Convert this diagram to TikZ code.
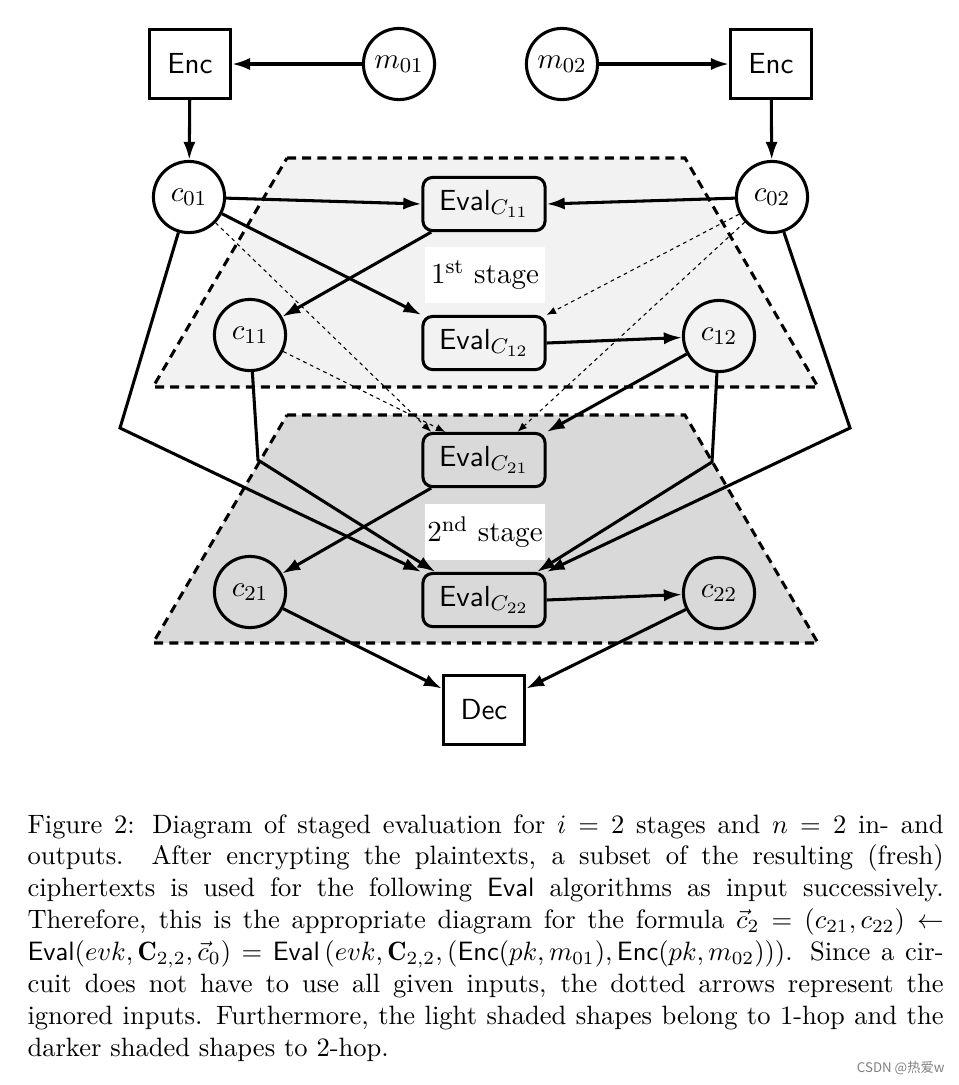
\documentclass[tikz,border=0pt]{standalone}
\usepackage{fontspec}
\usepackage{amsmath}
\usetikzlibrary{arrows.meta,calc}
\newfontfamily\cjkfont{Noto Sans CJK SC}
\begin{document}
\begin{tikzpicture}[x=0.3766pt,y=-0.3766pt,
  dfont/.style={font=\fontsize{10.95}{13.6}\selectfont},
  arr/.style={line width=1.15pt,-{Latex[length=6.8pt,width=4.6pt]}},
  dotarr/.style={line width=0.4pt,dash pattern=on 1.4pt off 1.4pt,-{Latex[length=3.6pt,width=2.8pt]}},
  circ/.style={dfont,circle,draw,line width=1.15pt,minimum size=26.8pt,inner sep=0pt},
  sq/.style={rectangle,draw,line width=1.15pt,minimum width=30.5pt,minimum height=26pt,inner sep=0pt,font=\fontsize{10.95}{13.6}\sffamily},
  ev/.style={dfont,rectangle,rounded corners=3.6pt,draw,line width=1.15pt,minimum width=46pt,minimum height=20pt,inner sep=0pt},
  lab/.style={dfont,rectangle,fill=white,minimum width=45.2pt,minimum height=21.1pt,inner sep=0pt},
  stg/.style={line width=1.15pt,dash pattern=on 3.4pt off 2.3pt}
]
\useasboundingbox (0,0) rectangle (959,1085);
% stage areas
\draw[stg,fill=gray!10] (287,158) -- (685,158) -- (818,387) -- (153,387) -- cycle;
\draw[stg,fill=gray!30] (287,415) -- (685,415) -- (818,643) -- (153,643) -- cycle;
\node[lab] (s1) at (485,275) {1\textsuperscript{st} stage};
\node[lab] (s2) at (485,532) {2\textsuperscript{nd} stage};
% nodes
\node[sq] (encL) at (190,64) {Enc};
\node[sq] (encR) at (771,64) {Enc};
\node[circ] (m01) at (399,64) {$m_{01}$};
\node[circ] (m02) at (562,64) {$m_{02}$};
\node[circ,fill=white] (c01) at (189,197) {$c_{01}$};
\node[circ,fill=white] (c02) at (772,197) {$c_{02}$};
\node[ev] (E11) at (484,204) {\textsf{Eval}$_{C_{11}}$};
\node[ev] (E12) at (484,343) {\textsf{Eval}$_{C_{12}}$};
\node[circ] (c11) at (250,335) {$c_{11}$};
\node[circ] (c12) at (719,336) {$c_{12}$};
\node[ev] (E21) at (484,460) {\textsf{Eval}$_{C_{21}}$};
\node[ev] (E22) at (484,600) {\textsf{Eval}$_{C_{22}}$};
\node[circ] (c21) at (250,592) {$c_{21}$};
\node[circ] (c22) at (719,593) {$c_{22}$};
\node[sq] (dec) at (484,710) {Dec};
\coordinate (k1) at (258,460);
\coordinate (k2) at (120,428);
\coordinate (k3) at (712,462);
\coordinate (k4) at (850,428);
% solid connectors
\draw[arr] (m01) -- (encL);
\draw[arr] (m02) -- (encR);
\draw[arr] (encL) -- (c01);
\draw[arr] (encR) -- (c02);
\draw[arr] (c01) -- (E11.west);
\draw[arr] (c02) -- (E11.east);
\draw[arr] (c01) -- (E12.north west);
\draw[arr] (E11.-152) -- (c11);
\draw[arr] (E12.east) -- (c12);
\draw[arr] (c12) -- (E21.north east);
\draw[arr] (E21.-152) -- (c21);
\draw[arr] (c11) -- (k1) -- (E22.150);
\draw[arr] (c01) -- (k2) -- (E22.north west);
\draw[arr] (c12) -- (k3) -- (E22.28);
\draw[arr] (c02) -- (k4) -- (E22.north east);
\draw[arr] (E22.east) -- (c22);
\draw[arr] (c21) -- (dec.153);
\draw[arr] (c22) -- (dec.27);
% dotted connectors
\draw[dotarr] (c02) -- (E12.north east);
\draw[dotarr] (c02) -- (E21.40);
\draw[dotarr] (c01) -- (E21.152);
\draw[dotarr] (c11) -- (E21.144);
% caption
\node[anchor=base west,inner sep=0pt] (cap) at (27,833) {\parbox[t]{345pt}{Figure 2: Diagram of staged evaluation for $i=2$ stages and $n=2$ in- and outputs. After encrypting the plaintexts, a subset of the resulting (fresh) ciphertexts is used for the following \textsf{Eval} algorithms as input successively. Therefore, this is the appropriate diagram for the formula $\vec{c}_2 = (c_{21}, c_{22}) \leftarrow \textsf{Eval}(evk, \mathbf{C}_{2,2}, \vec{c}_0) = \textsf{Eval}\left(evk, \mathbf{C}_{2,2}, (\textsf{Enc}(pk, m_{01}), \textsf{Enc}(pk, m_{02}))\right)$. Since a circuit does not have to use all given inputs, the dotted arrows represent the ignored inputs. Furthermore, the light shaded shapes belong to 1-hop and the darker shaded shapes to 2-hop.}};
\node[anchor=east,inner sep=0pt,text=gray,font=\cjkfont\fontsize{5}{6}\selectfont] (wm) at (945,1068) {CSDN @热爱w};
\end{tikzpicture}
\end{document}
